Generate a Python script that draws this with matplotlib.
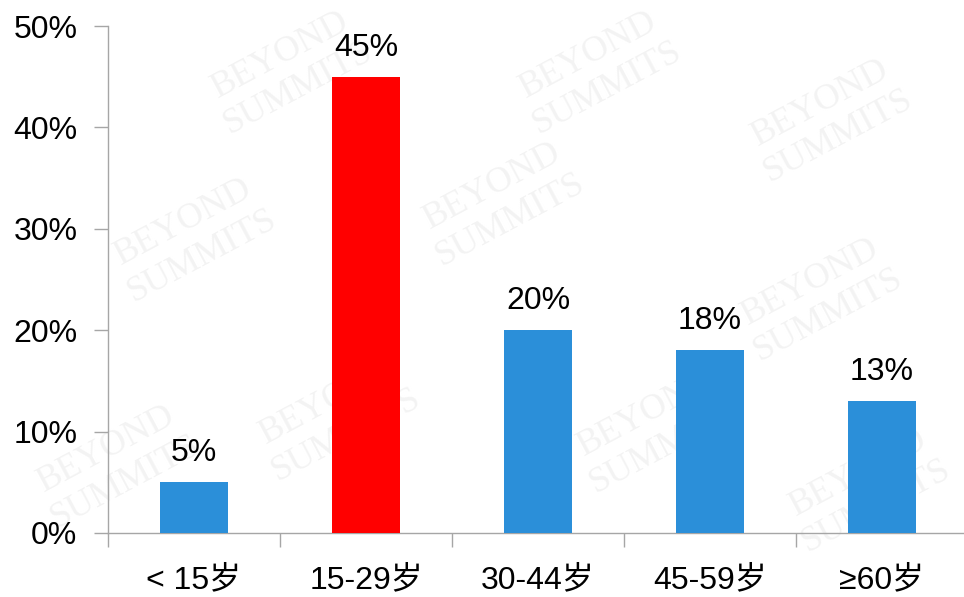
import matplotlib.pyplot as plt

plt.rcParams['font.family'] = ['Liberation Sans', 'Noto Sans CJK SC', 'DejaVu Sans']

# age groups and their shares (%)
groups = ['< 15岁', '15-29岁', '30-44岁', '45-59岁', '≥60岁']
shares = [5, 45, 20, 18, 13]
colors = ['#2b8fd9', '#ff0000', '#2b8fd9', '#2b8fd9', '#2b8fd9']

fig = plt.figure(figsize=(9.64, 5.97), dpi=100)
ax = fig.add_axes([108 / 964, 1 - 533 / 597, 860 / 964, 507 / 597])

# faint background watermark
for wx, wy in [(0.30, 0.88), (0.62, 0.88), (0.86, 0.80), (0.20, 0.60), (0.52, 0.66),
               (0.85, 0.50), (0.35, 0.30), (0.68, 0.28), (0.12, 0.22), (0.90, 0.18)]:
    fig.text(wx, wy, 'BEYOND\nSUMMITS', fontsize=26, family='Liberation Serif',
             color='#f3f3f3', rotation=28, ha='center', va='center', zorder=-1)

x = range(len(groups))
ax.bar(x, shares, width=0.4, color=colors, zorder=3)
for xi, v in zip(x, shares):
    ax.text(xi, v + 1.4, f'{v}%', ha='center', va='bottom', fontsize=23, color='black')

ax.set_xlim(-0.5, len(groups) - 0.5)
ax.set_ylim(0, 50)
ax.set_yticks(range(0, 51, 10))
ax.set_yticklabels([f'{t}%' for t in range(0, 51, 10)])
ax.set_xticks(x)
ax.set_xticklabels(groups)
ax.set_xticks([i - 0.5 for i in range(len(groups) + 1)], minor=True)
ax.tick_params(axis='x', which='major', length=0, pad=23, labelsize=23)
ax.tick_params(axis='x', which='minor', length=10, width=1, color='#a6a6a6')
ax.tick_params(axis='y', length=10, width=1, color='#a6a6a6', pad=12, labelsize=23)

ax.patch.set_alpha(0)
for s in ['top', 'right']:
    ax.spines[s].set_visible(False)
for s in ['left', 'bottom']:
    ax.spines[s].set_color('#a6a6a6')
    ax.spines[s].set_linewidth(1)

fig.savefig('out.png', dpi=100)
